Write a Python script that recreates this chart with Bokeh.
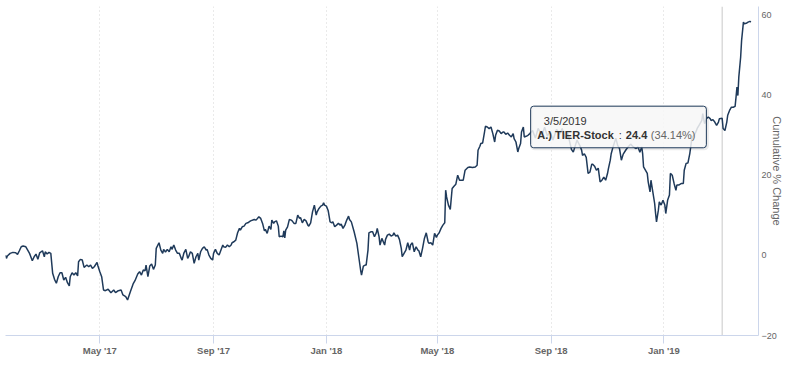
import pandas as pd
from bokeh.plotting import figure
from bokeh.models import (Range1d, FixedTicker, DatetimeTickFormatter, Span,
                          BoxAnnotation, Label, ColumnDataSource)
from bokeh.embed import file_html
from bokeh.resources import INLINE

# ---------------- data ----------------
dates = [
    "2017-01-19", "2017-01-20", "2017-01-21", "2017-01-24", "2017-01-27", "2017-01-30",
    "2017-02-01", "2017-02-03", "2017-02-05", "2017-02-07", "2017-02-10", "2017-02-12", "2017-02-14",
    "2017-02-17", "2017-02-19", "2017-02-21", "2017-02-23", "2017-02-25", "2017-02-28",
    "2017-03-02", "2017-03-03", "2017-03-05", "2017-03-07", "2017-03-09", "2017-03-10", "2017-03-11",
    "2017-03-13", "2017-03-15", "2017-03-17", "2017-03-19", "2017-03-21", "2017-03-23", "2017-03-25",
    "2017-03-27", "2017-03-29", "2017-03-30",
    "2017-04-01", "2017-04-03", "2017-04-05", "2017-04-07", "2017-04-08", "2017-04-10", "2017-04-12",
    "2017-04-14", "2017-04-17", "2017-04-19", "2017-04-21", "2017-04-23", "2017-04-25", "2017-04-28",
    "2017-04-29",
    "2017-05-01", "2017-05-03", "2017-05-05", "2017-05-07", "2017-05-10", "2017-05-13", "2017-05-16",
    "2017-05-18", "2017-05-21", "2017-05-24", "2017-05-26", "2017-05-29", "2017-05-31",
    "2017-06-03", "2017-06-06", "2017-06-08", "2017-06-11", "2017-06-13", "2017-06-15", "2017-06-17",
    "2017-06-19", "2017-06-20", "2017-06-22", "2017-06-24", "2017-06-26", "2017-06-28", "2017-06-30",
    "2017-07-01", "2017-07-04", "2017-07-06", "2017-07-08", "2017-07-09", "2017-07-11", "2017-07-13",
    "2017-07-15", "2017-07-17", "2017-07-18", "2017-07-20", "2017-07-22", "2017-07-24", "2017-07-26",
    "2017-07-28", "2017-07-29", "2017-07-31",
    "2017-08-02", "2017-08-04", "2017-08-05", "2017-08-07", "2017-08-09", "2017-08-11", "2017-08-13",
    "2017-08-15", "2017-08-16", "2017-08-18", "2017-08-20", "2017-08-22", "2017-08-24", "2017-08-25",
    "2017-08-27", "2017-08-29", "2017-08-31",
    "2017-09-01", "2017-09-03", "2017-09-05", "2017-09-07", "2017-09-09", "2017-09-11", "2017-09-12",
    "2017-09-14", "2017-09-16", "2017-09-18", "2017-09-20", "2017-09-21", "2017-09-23", "2017-09-25",
    "2017-09-27", "2017-09-29", "2017-09-30",
    "2017-10-02", "2017-10-04", "2017-10-06", "2017-10-08", "2017-10-11", "2017-10-15", "2017-10-17",
    "2017-10-20", "2017-10-22", "2017-10-24", "2017-10-26", "2017-10-27", "2017-10-29", "2017-10-31",
    "2017-11-02", "2017-11-03", "2017-11-05", "2017-11-06", "2017-11-08", "2017-11-10", "2017-11-11",
    "2017-11-13", "2017-11-15", "2017-11-16", "2017-11-17", "2017-11-18", "2017-11-20", "2017-11-22",
    "2017-11-24", "2017-11-25", "2017-11-27", "2017-11-29",
    "2017-12-01", "2017-12-03", "2017-12-04", "2017-12-06", "2017-12-08", "2017-12-10", "2017-12-12",
    "2017-12-13", "2017-12-15", "2017-12-17", "2017-12-19", "2017-12-21", "2017-12-22", "2017-12-24",
    "2017-12-26", "2017-12-28", "2017-12-29", "2017-12-30",
    "2018-01-01", "2018-01-03", "2018-01-05", "2018-01-07", "2018-01-08", "2018-01-10", "2018-01-12",
    "2018-01-14", "2018-01-16", "2018-01-17", "2018-01-19", "2018-01-21", "2018-01-23", "2018-01-25",
    "2018-01-26", "2018-01-28", "2018-01-31",
    "2018-02-03", "2018-02-05", "2018-02-07", "2018-02-08", "2018-02-10", "2018-02-12", "2018-02-13",
    "2018-02-15", "2018-02-16", "2018-02-18", "2018-02-20", "2018-02-22", "2018-02-24", "2018-02-25",
    "2018-02-27", "2018-02-28",
    "2018-03-02", "2018-03-05", "2018-03-06", "2018-03-08", "2018-03-10", "2018-03-12", "2018-03-14",
    "2018-03-15", "2018-03-17", "2018-03-19", "2018-03-21", "2018-03-23", "2018-03-24", "2018-03-26",
    "2018-03-28", "2018-03-30",
    "2018-04-01", "2018-04-02", "2018-04-04", "2018-04-06", "2018-04-08", "2018-04-10", "2018-04-11",
    "2018-04-13", "2018-04-15", "2018-04-17", "2018-04-19", "2018-04-21", "2018-04-22", "2018-04-24",
    "2018-04-26", "2018-04-28", "2018-04-30",
    "2018-05-01", "2018-05-03", "2018-05-05", "2018-05-07", "2018-05-09", "2018-05-10", "2018-05-11",
    "2018-05-13", "2018-05-15", "2018-05-17", "2018-05-19", "2018-05-21", "2018-05-23", "2018-05-25",
    "2018-05-27", "2018-05-29", "2018-05-31",
    "2018-06-03", "2018-06-05", "2018-06-08", "2018-06-11", "2018-06-13", "2018-06-14", "2018-06-16",
    "2018-06-17", "2018-06-19", "2018-06-21", "2018-06-22", "2018-06-24", "2018-06-26", "2018-06-28",
    "2018-06-30",
    "2018-07-02", "2018-07-03", "2018-07-05", "2018-07-07", "2018-07-09", "2018-07-11", "2018-07-12",
    "2018-07-14", "2018-07-16", "2018-07-18", "2018-07-20", "2018-07-22", "2018-07-23", "2018-07-25",
    "2018-07-27", "2018-07-28", "2018-07-30", "2018-07-31",
    "2018-08-02", "2018-08-03", "2018-08-05", "2018-08-07", "2018-08-09", "2018-08-12", "2018-08-15",
    "2018-08-18", "2018-08-22", "2018-08-25", "2018-08-28", "2018-08-31",
    "2018-09-03", "2018-09-07", "2018-09-10", "2018-09-13", "2018-09-16", "2018-09-19", "2018-09-23",
    "2018-09-25", "2018-09-29",
    "2018-10-02", "2018-10-04", "2018-10-05", "2018-10-07", "2018-10-09", "2018-10-11", "2018-10-13",
    "2018-10-15", "2018-10-16", "2018-10-18", "2018-10-20", "2018-10-22", "2018-10-23", "2018-10-24",
    "2018-10-26", "2018-10-28", "2018-10-30",
    "2018-11-01", "2018-11-02", "2018-11-04", "2018-11-05", "2018-11-07", "2018-11-10", "2018-11-12",
    "2018-11-14", "2018-11-16", "2018-11-18", "2018-11-21", "2018-11-23", "2018-11-26", "2018-11-29",
    "2018-12-02", "2018-12-04", "2018-12-06", "2018-12-08", "2018-12-09", "2018-12-10", "2018-12-12",
    "2018-12-14", "2018-12-15", "2018-12-17", "2018-12-18", "2018-12-20", "2018-12-22", "2018-12-23",
    "2018-12-24", "2018-12-26", "2018-12-27", "2018-12-29", "2018-12-31",
    "2019-01-02", "2019-01-03", "2019-01-05", "2019-01-07", "2019-01-08", "2019-01-10", "2019-01-12",
    "2019-01-14", "2019-01-15", "2019-01-17", "2019-01-20", "2019-01-22", "2019-01-23", "2019-01-25",
    "2019-01-27", "2019-01-29", "2019-01-31",
    "2019-02-01", "2019-02-04", "2019-02-06", "2019-02-08", "2019-02-11", "2019-02-12", "2019-02-14",
    "2019-02-16", "2019-02-18", "2019-02-20", "2019-02-21", "2019-02-23", "2019-02-25", "2019-02-27",
    "2019-03-01", "2019-03-02", "2019-03-05", "2019-03-06", "2019-03-08", "2019-03-10", "2019-03-11",
    "2019-03-13", "2019-03-15", "2019-03-17", "2019-03-19", "2019-03-20", "2019-03-21", "2019-03-22",
    "2019-03-23", "2019-03-25", "2019-03-26", "2019-03-28", "2019-03-29", "2019-03-31",
    "2019-04-02", "2019-04-04", "2019-04-05",
]

pct = [
    0.0, -0.77, -0.2, 0.47, 0.72, 0.62,
    0.22, 1.12, 2.11, 2.29, 2.11, 1.29, 0.47, -1.37, -0.37, 0.3, -1.02, 0.62, 1.12,
    -0.37, 0.87, 0.3, 0.72, 0.47, -2.01, -4.5, -6.0, -6.99, -5.35, -4.35, -4.35, -6.17, -5.5, -6.84,
    -7.66, -5.35,
    -4.35, -4.93, -4.35, -5.17, -1.62, -1.02, -1.19, -3.01, -2.44, -2.86, -2.44, -3.26, -2.86, -1.77,
    -2.69,
    -4.10, -5.35, -8.66, -8.83, -8.48, -9.33, -8.66, -9.33, -8.83, -8.66, -9.9, -10.32, -11.14,
    -9.08, -7.16, -6.34, -4.68, -4.1, -4.93, -3.68, -3.86, -2.44, -5.35, -2.69, -2.19, -3.51, -2.44,
    1.72, 3.11, 1.29, 0.47, 1.47, 0.8, 1.47, 0.87, 2.11, 1.47, 2.54, 1.29, 0.47, 0.47, -0.77, -1.19, 0.62,
    1.47, -0.77, -0.37, 0.87, 0.47, -2.01, -0.37, 0.47, -1.19, 0.87, 1.72, 2.11, 1.29, 1.47, 0.05, -0.77,
    -1.19,
    0.47, 1.47, 0.47, 0.05, 1.29, 2.54, 2.11, 1.96, 2.54, 2.11, 2.54, 3.11, 3.36, 3.78, 5.6, 6.69, 6.27,
    7.09, 7.26, 7.94, 8.08, 8.58, 8.93, 8.76, 9.58, 9.18, 7.94, 6.09, 6.44, 5.45, 7.26,
    6.44, 8.76, 7.94, 8.33, 8.58, 7.26, 4.6, 4.78, 4.6, 6.09, 4.35, 6.27, 7.09, 8.93, 8.76, 8.58, 7.94,
    7.94,
    10.0, 9.18, 9.43, 8.08, 8.93, 8.58, 7.51, 7.26, 8.08, 10.82, 12.49, 10.0, 10.82, 11.67, 12.24, 12.49,
    13.06, 12.49,
    12.24, 11.07, 8.33, 8.08, 8.33, 7.09, 7.51, 7.94, 7.51, 7.76, 6.69, 7.51, 8.76, 9.75, 8.93, 8.33, 5.85,
    2.96, -0.37, -3.68, -4.93, -2.69, -2.44, -2.44, 1.29, 5.6, 5.85, 5.85, 4.6, 5.6, 6.69, 4.6, 2.54,
    4.2, 2.54, 3.96, 5.02, 5.27, 4.78, 5.02, 5.6, 4.78, 5.02, 3.96, 1.72, -0.37, 0.47, 1.29, 3.11,
    1.29, 2.54, 3.11, 0.87, 2.11, 1.29, 1.12, -0.37, 1.72, 4.2, 5.6, 3.36, 2.96, 3.11, 2.54, 5.45, 4.45,
    5.02, 5.6, 6.69, 7.51, 8.08, 16.22, 14.55, 12.49, 11.42, 16.64, 17.21, 17.71, 19.95, 18.71, 18.71,
    18.71, 21.19,
    21.87, 22.01, 21.87, 22.01, 22.44, 26.17, 27.16, 27.84, 27.99, 30.72, 32.14, 31.97, 31.57, 31.97,
    30.32,
    28.23, 29.9, 31.14, 30.97, 30.32, 30.72, 30.72, 30.15, 30.47, 29.9, 29.48, 30.32, 29.08, 28.23, 25.75,
    26.59, 27.84, 30.72,
    31.97, 29.48, 29.65, 29.9, 30.32, 31.1, 29.2, 31.6, 29.9, 31.9, 29.7, 30.9,
    28.7, 31.4, 30.1, 31.6, 29.2, 30.4, 26.4, 25.7, 28.7,
    27.4, 26.2, 24.9, 25.3, 24.4, 20.4, 20.7, 22.7, 22.7, 22.2, 21.2, 21.7, 19.95, 18.28, 18.7, 19.45,
    18.7,
    20.37, 21.6, 23.7, 25.3, 27.0, 29.2, 27.4, 26.6, 23.7, 25.2, 26.3, 26.9, 27.7, 27.0,
    26.6, 27.0, 25.7, 27.0, 25.35, 22.0, 21.2, 20.4, 18.3, 15.8, 18.7, 15.8, 12.9, 10.4, 8.33, 11.24,
    13.3, 12.5, 13.7,
    12.5, 10.4, 13.7, 15.0, 20.4, 19.95, 17.9, 16.2, 17.5, 17.5, 17.9, 17.9, 21.2, 22.9, 23.0, 25.35, 28.7,
    29.5, 30.4, 31.6, 32.4, 33.6, 35.3, 32.8, 34.05, 34.45, 34.05, 33.6, 33.8, 33.2, 32.4,
    33.2, 34.05, 34.14, 31.6, 31.1, 33.2, 34.9, 36.1, 36.9, 36.9, 37.1, 39.4, 41.9, 39.8, 44.4, 49.4,
    53.5, 58.1, 57.7, 57.8,
    58.1, 58.3, 58.1,
]

x_tick_dates = ["2017-05-01", "2017-09-01", "2018-01-01", "2018-05-01", "2018-09-01", "2019-01-01"]
y_ticks = [-20, 0, 20, 40, 60]
y_title = "Cumulative % Change"
series_name = "A.) TIER-Stock"
hover_date = "2019-03-05"
hover_label = "3/5/2019"
hover_price = "24.4"
hover_pct_text = "(34.14%)"

# ---------------- layout ----------------
def ms(s):
    return pd.Timestamp(s).value / 1e6

X0, X1 = ms("2017-01-19"), ms("2019-04-13 07:00")
Y0, Y1 = -20, 62
W, H = 786, 359
LEFT, TOP = 5, 6
FRAME_W, FRAME_H = 753, 329
FONT = "Liberation Sans"
LINE_COLOR = "#1f3a5a"
AXIS_COLOR = "#ccd6eb"

p = figure(width=W, height=H, x_axis_type="datetime", y_axis_location="right",
           x_range=Range1d(X0, X1), y_range=Range1d(Y0, Y1),
           output_backend="svg", toolbar_location=None, title=None,
           min_border_left=LEFT, min_border_top=TOP,
           min_border_right=W - FRAME_W - LEFT, min_border_bottom=H - FRAME_H - TOP)
p.outline_line_color = None
p.background_fill_color = "white"
p.border_fill_color = "white"

src = ColumnDataSource(dict(x=pd.to_datetime(dates), y=pct))
p.line("x", "y", source=src, line_color=LINE_COLOR, line_width=1.5)

# x axis
xa = p.xaxis[0]
xa.ticker = FixedTicker(ticks=[ms(d) for d in x_tick_dates])
fmt = "%b '%y"
xa.formatter = DatetimeTickFormatter(years=fmt, months=fmt, days=fmt, hours=fmt, hourmin=fmt,
                                     minutes=fmt, minsec=fmt, seconds=fmt, milliseconds=fmt,
                                     microseconds=fmt)
xa.axis_line_color = AXIS_COLOR
xa.major_tick_line_color = AXIS_COLOR
xa.major_tick_out = 8
xa.major_tick_in = 0
xa.minor_tick_line_color = None
xa.major_label_standoff = 1
xa.major_label_text_font = FONT
xa.major_label_text_font_size = "9.5px"
xa.major_label_text_font_style = "bold"
xa.major_label_text_color = "#666666"

# y axis (right)
ya = p.yaxis[0]
ya.ticker = FixedTicker(ticks=y_ticks)
ya.axis_line_color = AXIS_COLOR
ya.major_tick_line_color = None
ya.minor_tick_line_color = None
ya.major_tick_out = 0
ya.major_tick_in = 0
ya.major_label_standoff = 3
ya.major_label_text_font = FONT
ya.major_label_text_font_size = "9px"
ya.major_label_text_color = "#666666"
ya.axis_label = y_title
ya.axis_label_text_font = FONT
ya.axis_label_text_font_size = "11px"
ya.axis_label_text_font_style = "normal"
ya.axis_label_text_color = "#666666"
ya.axis_label_standoff = -9

# grid
p.ygrid.visible = False
p.xgrid.grid_line_color = "#d4d4d4"
p.xgrid.grid_line_dash = "1 3"
p.xgrid.grid_line_width = 1

# crosshair
hx = ms(hover_date)
hv = pct[dates.index(hover_date)]
p.add_layout(Span(location=hx, dimension="height", line_color="#c8c8c8", line_width=1,
                  level="underlay"))

# tooltip
ms_px = (X1 - X0) / FRAME_W
v_px = (Y1 - Y0) / FRAME_H


def tx(dx):
    return hx + dx * ms_px


def ty(dy):  # dy positive = downwards in pixels
    return hv - dy * v_px


L, R, T, B = -191.5, -15.8, -12.1, 29.5
p.add_layout(BoxAnnotation(left=tx(L + 1), right=tx(R + 1), top=ty(T + 1), bottom=ty(B + 1),
                           fill_color=None, line_color="black", line_alpha=0.08, line_width=3,
                           border_radius=3))
p.add_layout(BoxAnnotation(left=tx(L), right=tx(R), top=ty(T), bottom=ty(B),
                           fill_color="#f7f7f7", fill_alpha=0.85, line_color=LINE_COLOR,
                           line_alpha=1.0, line_width=1, border_radius=3))


def tlabel(text, dx, dy, bold=False, color="#333333"):
    p.add_layout(Label(x=tx(dx), y=ty(dy), text=text, text_font=FONT, text_font_size="11px",
                       text_font_style="bold" if bold else "normal", text_color=color,
                       text_align="left", text_baseline="middle"))


tlabel(hover_label, -178.3, 2.7)
tlabel(series_name, -184.8, 16.7, bold=True)
tlabel(":", -103.5, 16.7)
tlabel(hover_price, -96.3, 16.7, bold=True)
tlabel(hover_pct_text, -71.3, 16.7, color="#666666")

open("out.html", "w").write(file_html(p, INLINE))
